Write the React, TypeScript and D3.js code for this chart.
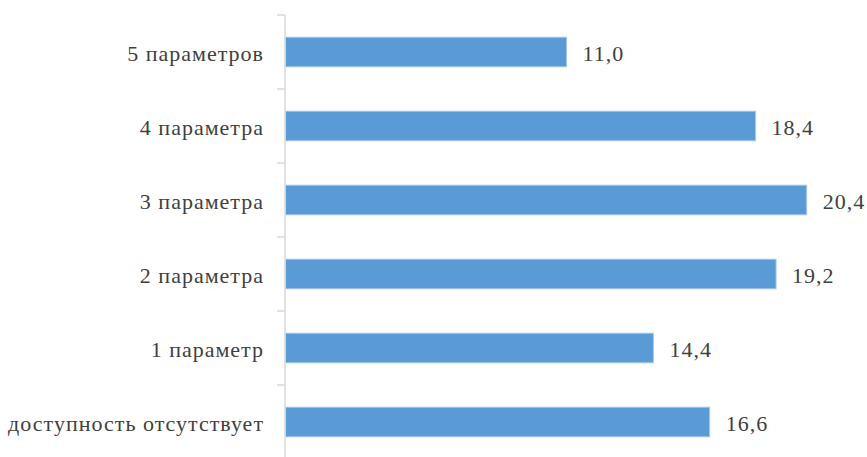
import { scaleBand, scaleLinear } from 'd3';

const CATEGORIES = [
  '5 параметров',
  '4 параметра',
  '3 параметра',
  '2 параметра',
  '1 параметр',
  'доступность отсутствует',
];
const VALUES = [11.0, 18.4, 20.4, 19.2, 14.4, 16.6];
const X_MAX = 22;

const W = 867;
const H = 457;
const AX = 285;
const TOP = 15;
const STEP = 74;

const fmt = (v: number) => v.toFixed(1).replace('.', ',');

export default function App() {
  const y = scaleBand<string>()
    .domain(CATEGORIES)
    .range([TOP, TOP + STEP * CATEGORIES.length])
    .paddingInner(0.6)
    .paddingOuter(0.3);
  const x = scaleLinear().domain([0, X_MAX]).range([AX + 0.5, AX + 0.5 + 25.55 * X_MAX]);

  // tick marks sit on the band boundaries
  const ticks = CATEGORIES.map((_, i) => TOP + i * y.step()).concat(TOP + CATEGORIES.length * y.step());

  return (
    <svg
      width={W}
      height={H}
      style={{
        position: 'absolute',
        left: 0,
        top: 0,
        background: '#fff',
        fontFamily: '"Liberation Serif", "Times New Roman", serif',
      }}
    >
      {CATEGORIES.map((c, i) => {
        const v = VALUES[i];
        const y0 = y(c)!;
        const bw = y.bandwidth();
        return (
          <g key={c}>
            <rect
              x={x(0)}
              y={y0}
              width={x(v) - x(0)}
              height={bw}
              fill="#5b9bd5"
              stroke="#a9c8e8"
              strokeWidth={1}
            />
            <text
              x={AX - 21}
              y={y0 + bw / 2}
              dy="0.42em"
              textAnchor="end"
              fontSize={22}
              letterSpacing={1}
              fill="#404040"
            >
              {c}
            </text>
            <text x={x(v) + 16} y={y0 + bw / 2} dy="0.42em" fontSize={22} letterSpacing={1} fill="#404040">
              {fmt(v)}
            </text>
          </g>
        );
      })}
      <line x1={AX} x2={AX} y1={TOP} y2={H} stroke="#d9d9d9" strokeWidth={1.5} />
      {ticks.map((t) => (
        <line key={t} x1={AX - 8} x2={AX} y1={t} y2={t} stroke="#d9d9d9" strokeWidth={1.5} />
      ))}
    </svg>
  );
}
